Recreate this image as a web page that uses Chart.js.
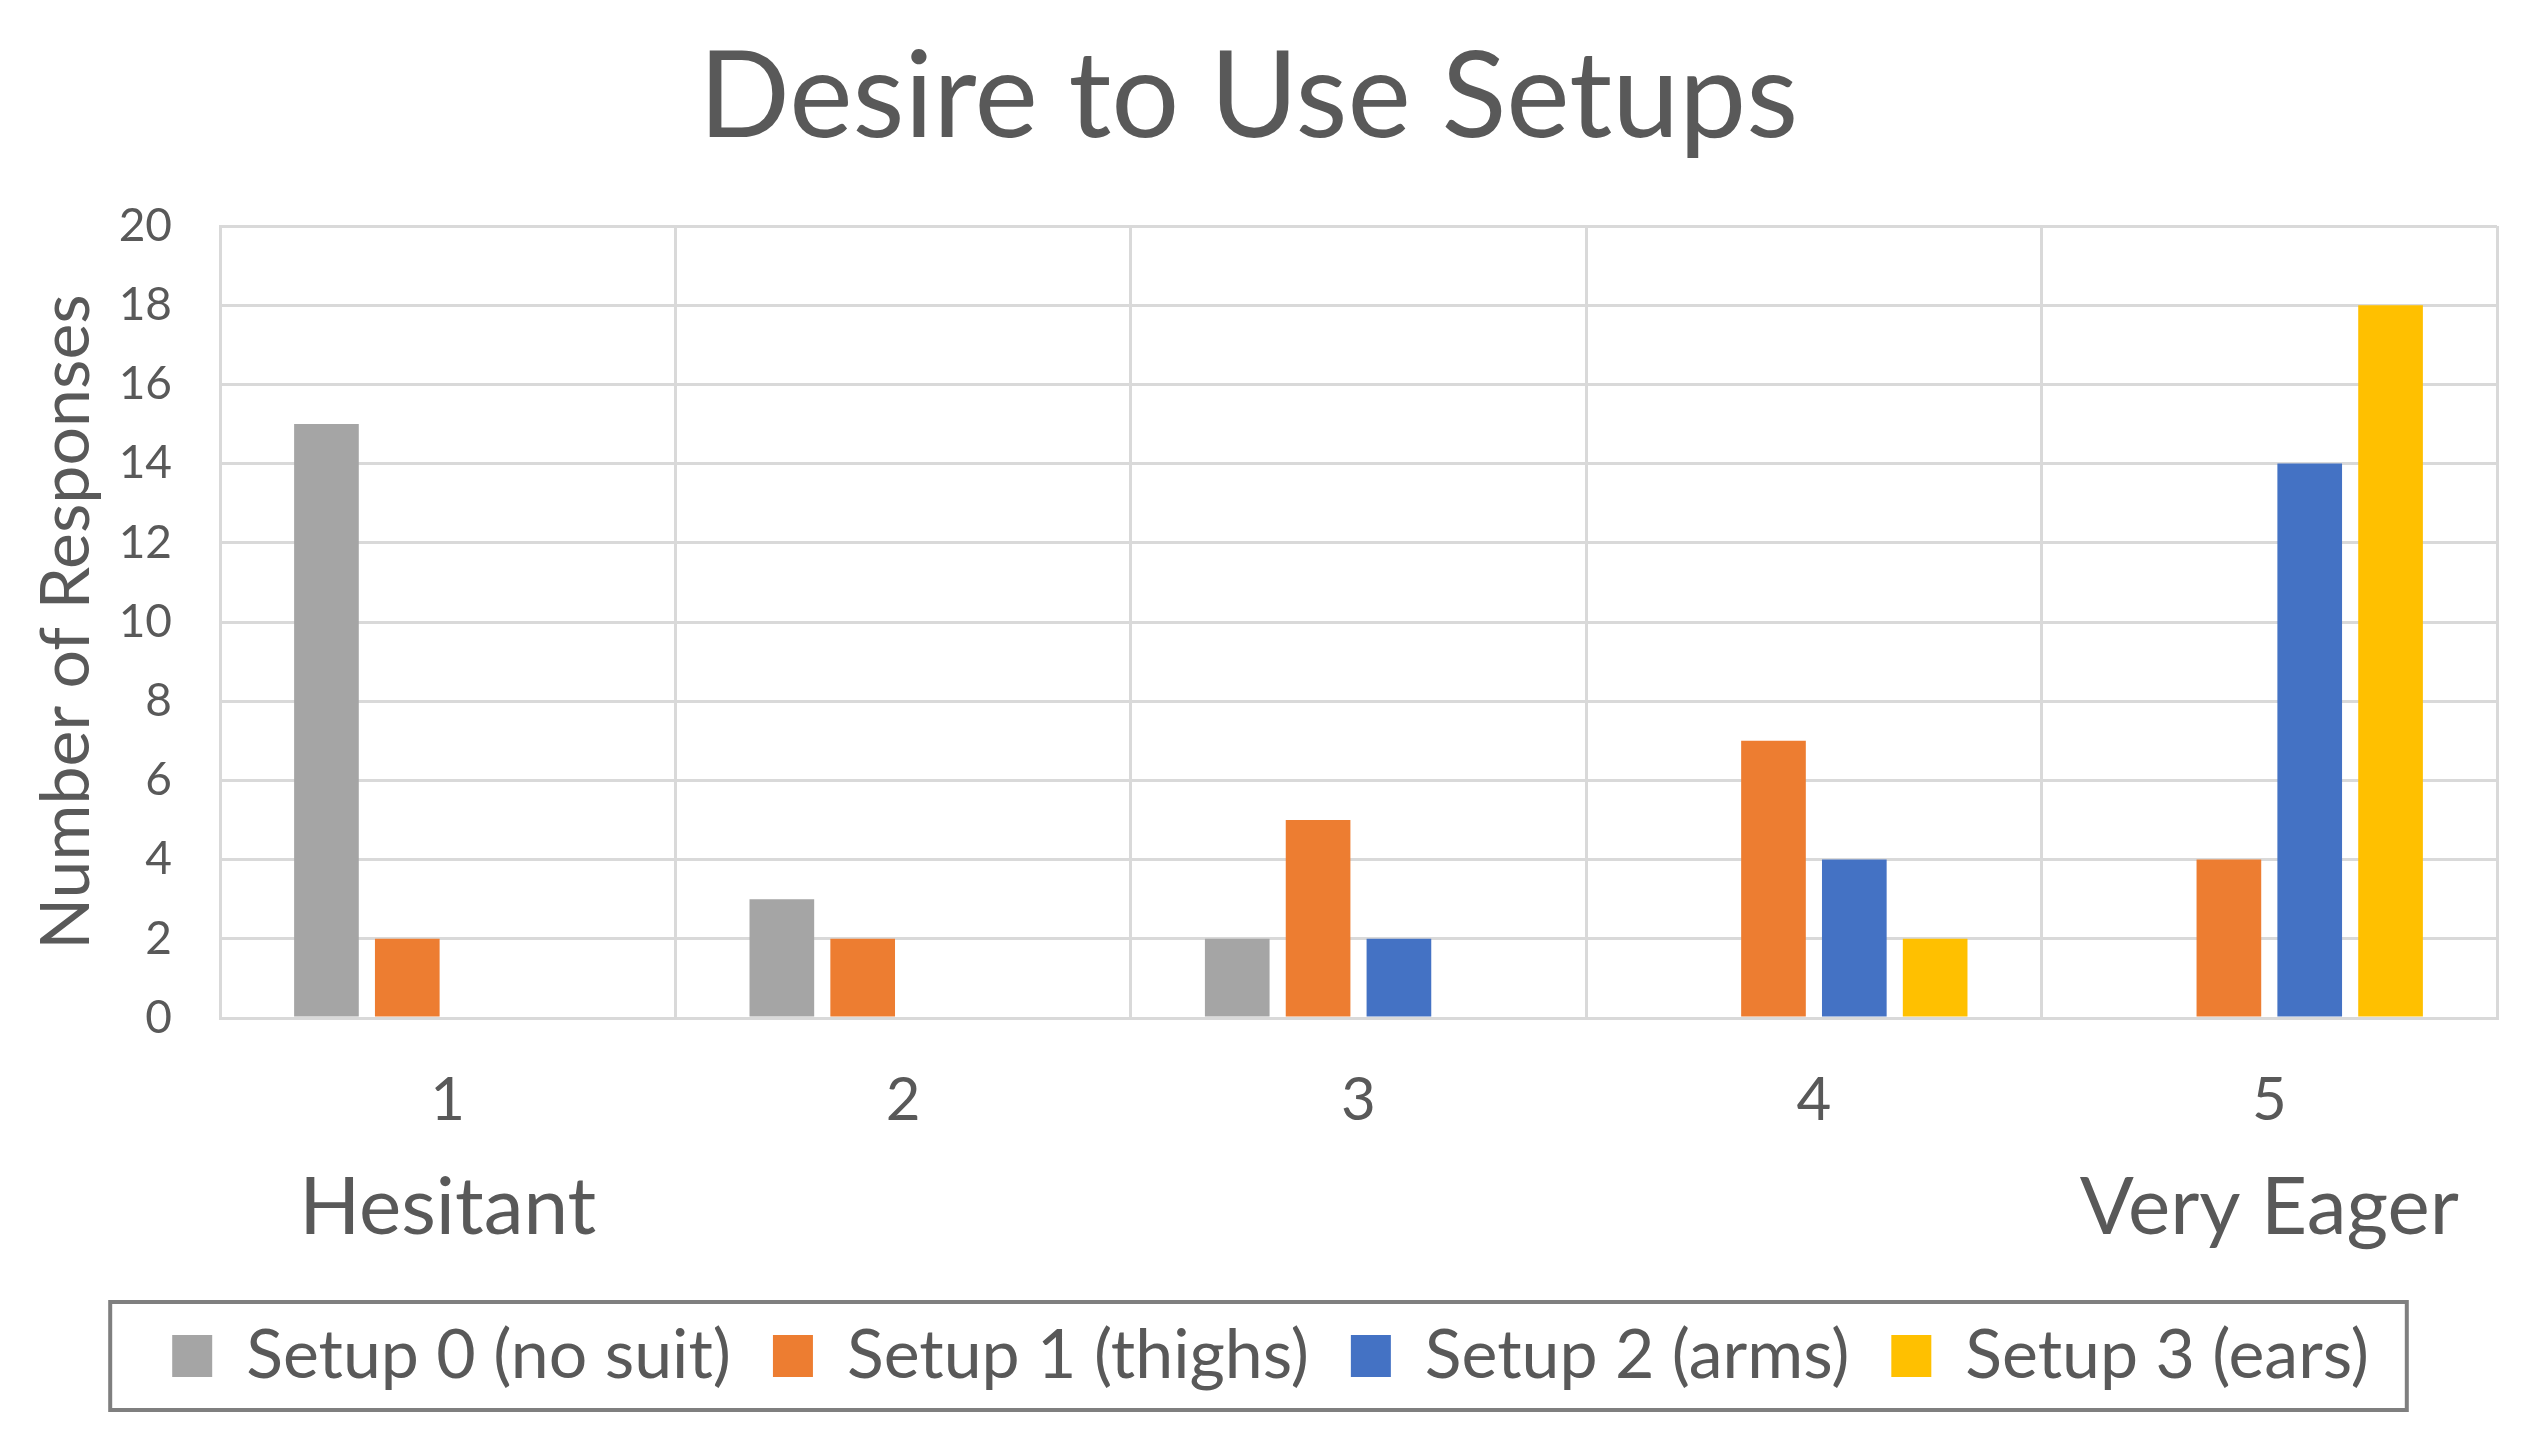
<!DOCTYPE html>
<html>
<head>
<meta charset="utf-8">
<script src="https://cdn.jsdelivr.net/npm/chart.js@4/dist/chart.umd.min.js"></script>
<style>
  html, body { margin: 0; padding: 0; background: #fff; }
  #wrap { width: 2536px; height: 1446px; }
</style>
</head>
<body>
<div id="wrap"><canvas id="desireChart" width="2536" height="1446"></canvas></div>
<script>
const categories = ["1", "2", "3", "4", "5"];
const endLabels = ["Hesitant", "", "", "", "Very Eager"];
const seriesNames = ["Setup 0 (no suit)", "Setup 1 (thighs)", "Setup 2 (arms)", "Setup 3 (ears)"];
const setup0 = [15, 3, 2, 0, 0];
const setup1 = [2, 2, 5, 7, 4];
const setup2 = [0, 0, 2, 4, 14];
const setup3 = [0, 0, 0, 2, 18];
const seriesColors = ["#A5A5A5", "#ED7D31", "#4472C4", "#FFC000"];

const textColor = "#595959";
const gridColor = "#D9D9D9";
const fontFamily = "Lato, 'Open Sans', sans-serif";

// legend sits centred on the whole canvas in the original, nudge it over
const legendShift = {
  id: "legendShift",
  afterLayout(chart) {
    chart.legend.left += 22;
    chart.legend.right += 22;
  }
};

// box round the legend, like the Excel one
const legendFrame = {
  id: "legendFrame",
  afterDraw(chart) {
    const boxes = chart.legend.legendHitBoxes;
    if (!boxes || !boxes.length) return;
    let x0 = Infinity, y0 = Infinity, x1 = -Infinity, y1 = -Infinity;
    boxes.forEach(b => {
      x0 = Math.min(x0, b.left); y0 = Math.min(y0, b.top);
      x1 = Math.max(x1, b.left + b.width); y1 = Math.max(y1, b.top + b.height);
    });
    const cy = (y0 + y1) / 2;
    const ctx = chart.ctx;
    ctx.save();
    ctx.strokeStyle = "#7F7F7F";
    ctx.lineWidth = 4;
    ctx.strokeRect(x0 - 62, cy - 54, (x1 - x0) + 100, 108);
    ctx.restore();
  }
};

// "Hesitant" / "Very Eager" under the first and last category
const endCaptions = {
  id: "endCaptions",
  afterDraw(chart) {
    const xs = chart.scales.x;
    const ctx = chart.ctx;
    ctx.save();
    ctx.fillStyle = textColor;
    ctx.font = "80px " + fontFamily;
    ctx.textAlign = "center";
    ctx.textBaseline = "middle";
    endLabels.forEach((txt, i) => {
      if (txt) ctx.fillText(txt, xs.getPixelForValue(i), xs.top + 190);
    });
    ctx.restore();
  }
};

const datasets = [setup0, setup1, setup2, setup3].map((vals, i) => ({
  label: seriesNames[i],
  data: vals,
  backgroundColor: seriesColors[i],
  borderWidth: 0,
  categoryPercentage: 0.71,
  barPercentage: 0.8
}));

new Chart(document.getElementById("desireChart"), {
  type: "bar",
  data: { labels: categories, datasets: datasets },
  plugins: [legendShift, legendFrame, endCaptions],
  options: {
    responsive: false,
    animation: false,
    layout: { padding: { left: 0, right: 39, top: 10, bottom: 46 } },
    plugins: {
      tooltip: { enabled: false },
      title: {
        display: true,
        text: "Desire to Use Setups",
        color: textColor,
        font: { family: fontFamily, size: 120, weight: "normal" },
        padding: { top: 16, bottom: 56 }
      },
      legend: {
        position: "bottom",
        labels: {
          color: textColor,
          font: { family: fontFamily, size: 68 },
          boxWidth: 40,
          boxHeight: 42,
          padding: 42
        }
      }
    },
    scales: {
      x: {
        grid: { offset: true, color: gridColor, lineWidth: 3, drawTicks: false },
        border: { color: gridColor, width: 3 },
        ticks: { color: textColor, font: { family: fontFamily, size: 60 }, padding: 47 },
        afterFit(scale) {
          scale.height = 262;
          scale.paddingLeft = 0;
          scale.paddingRight = 0;
        }
      },
      y: {
        min: 0,
        max: 20,
        grid: { color: gridColor, lineWidth: 3, drawTicks: false },
        border: { color: gridColor, width: 3 },
        ticks: { stepSize: 2, color: textColor, font: { family: fontFamily, size: 46 }, padding: 48 },
        title: {
          display: true,
          text: "Number of Responses",
          color: textColor,
          font: { family: fontFamily, size: 68 },
          padding: { top: 26, bottom: 12 }
        },
        afterFit(scale) { scale.width = 220; }
      }
    }
  }
});
</script>
</body>
</html>
